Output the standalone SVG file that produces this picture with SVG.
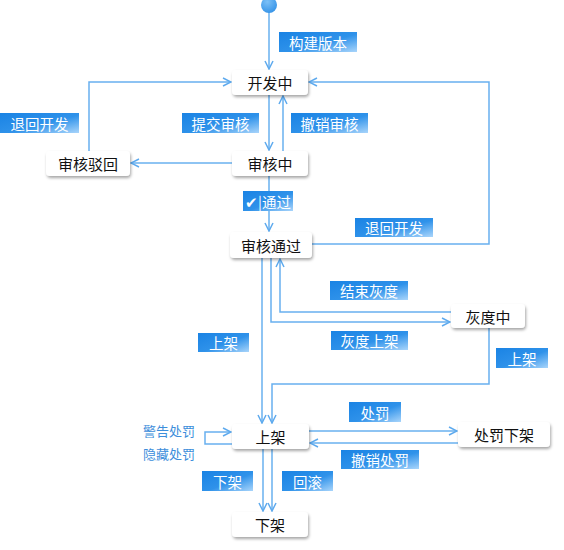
<svg xmlns="http://www.w3.org/2000/svg" width="564" height="550" viewBox="0 0 564 550">
<defs>
<linearGradient id="lg" x1="0" y1="0" x2="1" y2="1">
<stop offset="0" stop-color="#1a83e4"/>
<stop offset="0.55" stop-color="#2f92ea"/>
<stop offset="1" stop-color="#a9d5fb"/>
</linearGradient>
<radialGradient id="sg" cx="0.4" cy="0.3" r="0.8">
<stop offset="0" stop-color="#7cc0f7"/>
<stop offset="1" stop-color="#2f8fe6"/>
</radialGradient>
<filter id="sh" x="-20%" y="-30%" width="140%" height="180%">
<feDropShadow dx="1" dy="2" stdDeviation="1.5" flood-color="#000" flood-opacity="0.35"/>
</filter>
<marker id="ar" viewBox="0 0 10 10" refX="9" refY="5" markerWidth="10" markerHeight="10" markerUnits="userSpaceOnUse" orient="auto">
<path d="M1,1 L9,5 L1,9" fill="none" stroke="#5eaaee" stroke-width="1.5"/>
</marker>
</defs>
<style>
.node rect{fill:#fff;filter:url(#sh)}
.node text{font-family:"Noto Sans CJK SC","Noto Sans",sans-serif;font-size:15px;fill:#111;text-anchor:middle;dominant-baseline:central}
.lbl rect{fill:url(#lg)}
.lbl text{font-family:"Noto Sans CJK SC","Noto Sans",sans-serif;font-size:14.5px;fill:#fff;text-anchor:middle;dominant-baseline:central}
.conn path{fill:none;stroke:#68b0ef;stroke-width:1.5;marker-end:url(#ar)}
.side{font-family:"Noto Sans CJK SC","Noto Sans",sans-serif;font-size:13px;fill:#3d8edb;dominant-baseline:central}
</style>
<rect width="564" height="550" fill="#fff"/>
<g id="connectors" class="conn">
<path d="M269,12 L269,69"/>
<path d="M89,151 L89,82 L231,82"/>
<path d="M312,244 L489,244 L489,82 L309,82"/>
<path d="M269,95 L269,150"/>
<path d="M283,151 L283,96"/>
<path d="M232,163 L131,163"/>
<path d="M269,176 L269,231"/>
<path d="M262,258 L262,423"/>
<path d="M271,258 L271,322 L450,322"/>
<path d="M451,312 L280,312 L280,259"/>
<path d="M489,328 L489,384 L272,384 L272,423"/>
<path d="M309,431 L457,431"/>
<path d="M458,443 L310,443"/>
<path d="M232,444 L205,444 L205,432 L231,432"/>
<path d="M263,449 L263,511"/>
<path d="M272,449 L272,511"/>
</g>
<g id="start"><ellipse cx="269" cy="5" rx="8" ry="8" fill="url(#sg)"/></g>
<g id="n-kaifa" class="node"><rect x="232" y="70" width="76" height="25" rx="4"/><text x="270" y="82.5">开发中</text></g>
<g id="n-shenhezhong" class="node"><rect x="232" y="151" width="76" height="25" rx="4"/><text x="270" y="163.5">审核中</text></g>
<g id="n-bohui" class="node"><rect x="46" y="151" width="84" height="25" rx="4"/><text x="88" y="163.5">审核驳回</text></g>
<g id="n-tongguo" class="node"><rect x="230" y="232" width="82" height="26" rx="4"/><text x="271" y="245">审核通过</text></g>
<g id="n-huidu" class="node"><rect x="451" y="304" width="74" height="24" rx="4"/><text x="488" y="316">灰度中</text></g>
<g id="n-shangjia" class="node"><rect x="232" y="424" width="77" height="25" rx="4"/><text x="270.5" y="436.5">上架</text></g>
<g id="n-chufa" class="node"><rect x="458" y="422" width="92" height="25" rx="4"/><text x="504" y="434.5">处罚下架</text></g>
<g id="n-xiajia" class="node"><rect x="232" y="512" width="76" height="25" rx="4"/><text x="270" y="524.5">下架</text></g>
<g id="labels">
<g class="lbl"><rect x="279" y="32" width="78" height="20"/><text x="318" y="42">构建版本</text></g>
<g class="lbl"><rect x="0" y="113" width="79" height="20"/><text x="39.5" y="123">退回开发</text></g>
<g class="lbl"><rect x="182" y="113" width="77" height="20"/><text x="220.5" y="123">提交审核</text></g>
<g class="lbl"><rect x="291" y="113" width="77" height="20"/><text x="329.5" y="123">撤销审核</text></g>
<g class="lbl"><rect x="243" y="191" width="50" height="20"/><text x="268" y="201">✔|通过</text></g>
<g class="lbl"><rect x="355" y="218" width="78" height="19"/><text x="394" y="227.5">退回开发</text></g>
<g class="lbl"><rect x="330" y="281" width="78" height="19"/><text x="369" y="290.5">结束灰度</text></g>
<g class="lbl"><rect x="331" y="331" width="77" height="19"/><text x="369.5" y="340.5">灰度上架</text></g>
<g class="lbl"><rect x="198" y="333" width="51" height="19"/><text x="223.5" y="342.5">上架</text></g>
<g class="lbl"><rect x="496" y="348" width="52" height="20"/><text x="522" y="358">上架</text></g>
<g class="lbl"><rect x="349" y="402" width="52" height="20"/><text x="375" y="412">处罚</text></g>
<g class="lbl"><rect x="341" y="450" width="78" height="19"/><text x="380" y="459.5">撤销处罚</text></g>
<g class="lbl"><rect x="202" y="471" width="51" height="20"/><text x="227.5" y="481">下架</text></g>
<g class="lbl"><rect x="282" y="471" width="51" height="20"/><text x="307.5" y="481">回滚</text></g>
</g>
<text class="side" x="143" y="430">警告处罚</text>
<text class="side" x="143" y="453">隐藏处罚</text>
</svg>
